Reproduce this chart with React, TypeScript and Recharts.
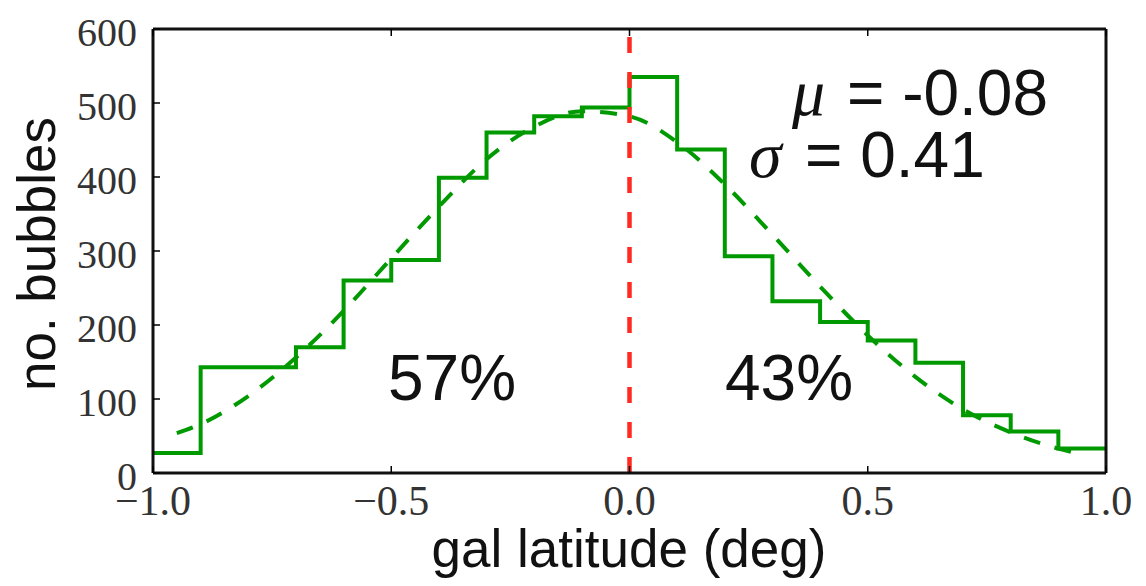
import { ComposedChart, Line, XAxis, YAxis, ReferenceLine } from 'recharts'

// histogram: bin edges and counts per 0.1 deg bin
const binEdges = [
  -1.0, -0.9, -0.8, -0.7, -0.6, -0.5, -0.4, -0.3, -0.2, -0.1, 0.0, 0.1, 0.2, 0.3, 0.4, 0.5, 0.6, 0.7,
  0.8, 0.9, 1.0,
]
const binCounts = [27, 143, 143, 170, 260, 288, 399, 460, 482, 494, 535, 437, 293, 232, 204, 179, 149, 78, 56, 33]

// gaussian fit curve
const fitX = [
  -0.95, -0.9, -0.8, -0.7, -0.6, -0.5, -0.4, -0.3, -0.2, -0.1, 0.0, 0.1, 0.2, 0.3, 0.4, 0.5, 0.6, 0.7, 0.8,
  0.9, 0.95,
]
const fitY = [54, 66, 104, 156, 219, 290, 360, 424, 468, 489, 482, 447, 390, 322, 252, 186, 130, 86, 55, 33, 25]

const xTicks = [-1, -0.5, 0, 0.5, 1]
const yTicks = [0, 100, 200, 300, 400, 500, 600]

const meanText = '-0.08'
const sigmaText = '0.41'
const leftShare = '57%'
const rightShare = '43%'

const GREEN = '#009a00'
const SERIF = '"Liberation Serif", "Times New Roman", serif'
const SANS = '"Liberation Sans", Arial, Helvetica, sans-serif'
const TICK_LEN = 7

const rows = [
  ...binEdges.map((x, i) => ({ x, hist: binCounts[Math.min(i, binCounts.length - 1)] })),
  ...fitX.map((x, i) => ({ x, fit: fitY[i] })),
].sort((a, b) => a.x - b.x)

const fmtX = (v: number) => (v < 0 ? '\u2212' + Math.abs(v).toFixed(1) : v.toFixed(1))

function BottomTick({ x, y, payload }: any) {
  return (
    <g>
      <line x1={x} x2={x} y1={y} y2={y - TICK_LEN} stroke="#000" strokeWidth={1.5} />
      <text x={x} y={y + 42} textAnchor="middle" fontFamily={SERIF} fontSize={42} fill="#333">
        {fmtX(payload.value)}
      </text>
    </g>
  )
}

function LeftTick({ x, y, payload }: any) {
  return (
    <g>
      <line x1={x} x2={x + TICK_LEN} y1={y} y2={y} stroke="#000" strokeWidth={1.5} />
      <text x={x - 16} y={y + 17} textAnchor="end" fontFamily={SERIF} fontSize={40} fill="#333">
        {payload.value}
      </text>
    </g>
  )
}

function TopTick({ x, y }: any) {
  return <line x1={x} x2={x} y1={y} y2={y + TICK_LEN} stroke="#000" strokeWidth={1.5} />
}

function RightTick({ x, y }: any) {
  return <line x1={x} x2={x - TICK_LEN} y1={y} y2={y} stroke="#000" strokeWidth={1.5} />
}

const axisLine = { stroke: '#111', strokeWidth: 3 }

export default function App() {
  return (
    <div style={{ position: 'absolute', left: 0, top: 0, width: 1146, height: 586, background: '#fff' }}>
      <ComposedChart width={1146} height={586} data={rows} margin={{ top: 0, right: 0, bottom: 0, left: 0 }}>
        <XAxis
          dataKey="x"
          type="number"
          domain={[-1, 1]}
          ticks={xTicks}
          interval={0}
          height={113}
          tickSize={0}
          tickMargin={0}
          tickLine={false}
          axisLine={axisLine}
          tick={BottomTick}
        />
        <XAxis
          xAxisId="top"
          orientation="top"
          dataKey="x"
          type="number"
          domain={[-1, 1]}
          ticks={xTicks}
          interval={0}
          height={29}
          tickSize={0}
          tickMargin={0}
          tickLine={false}
          axisLine={axisLine}
          tick={TopTick}
        />
        <YAxis
          type="number"
          domain={[0, 600]}
          ticks={yTicks}
          interval={0}
          width={153}
          tickSize={0}
          tickMargin={0}
          tickLine={false}
          axisLine={axisLine}
          tick={LeftTick}
        />
        <YAxis
          yAxisId="right"
          orientation="right"
          type="number"
          domain={[0, 600]}
          ticks={yTicks}
          interval={0}
          width={40}
          tickSize={0}
          tickMargin={0}
          tickLine={false}
          axisLine={axisLine}
          tick={RightTick}
        />
        <Line
          dataKey="fit"
          type="monotone"
          stroke={GREEN}
          strokeWidth={4}
          strokeDasharray="17 15"
          dot={false}
          connectNulls
          isAnimationActive={false}
        />
        <Line
          dataKey="hist"
          type="stepAfter"
          stroke={GREEN}
          strokeWidth={4}
          strokeLinejoin="miter"
          dot={false}
          connectNulls
          isAnimationActive={false}
        />
        <ReferenceLine x={0} stroke="#ff2a20" strokeWidth={4.5} strokeDasharray="16 19" />
      </ComposedChart>

      <svg
        width={1146}
        height={586}
        style={{ position: 'absolute', left: 0, top: 0, pointerEvents: 'none' }}
      >
        <text x={55} y={254} transform="rotate(-90 55 254)" textAnchor="middle" fontFamily={SANS} fontSize={53} fill="#111">
          no. bubbles
        </text>
        <text x={629} y={567} textAnchor="middle" fontFamily={SANS} fontSize={53} fill="#111">
          gal latitude (deg)
        </text>

        <text x={792} y={115} fontFamily={SERIF} fontStyle="italic" fontSize={66} fill="#111">
          μ
        </text>
        <text x={847} y={115} fontFamily={SANS} fontSize={64} fill="#111">
          = {meanText}
        </text>
        <text x={749} y={177} fontFamily={SERIF} fontStyle="italic" fontSize={66} fill="#111">
          σ
        </text>
        <text x={805} y={177} fontFamily={SANS} fontSize={64} fill="#111">
          = {sigmaText}
        </text>

        <text x={388} y={400} fontFamily={SANS} fontSize={64} fill="#111">
          {leftShare}
        </text>
        <text x={725} y={400} fontFamily={SANS} fontSize={64} fill="#111">
          {rightShare}
        </text>
      </svg>
    </div>
  )
}
